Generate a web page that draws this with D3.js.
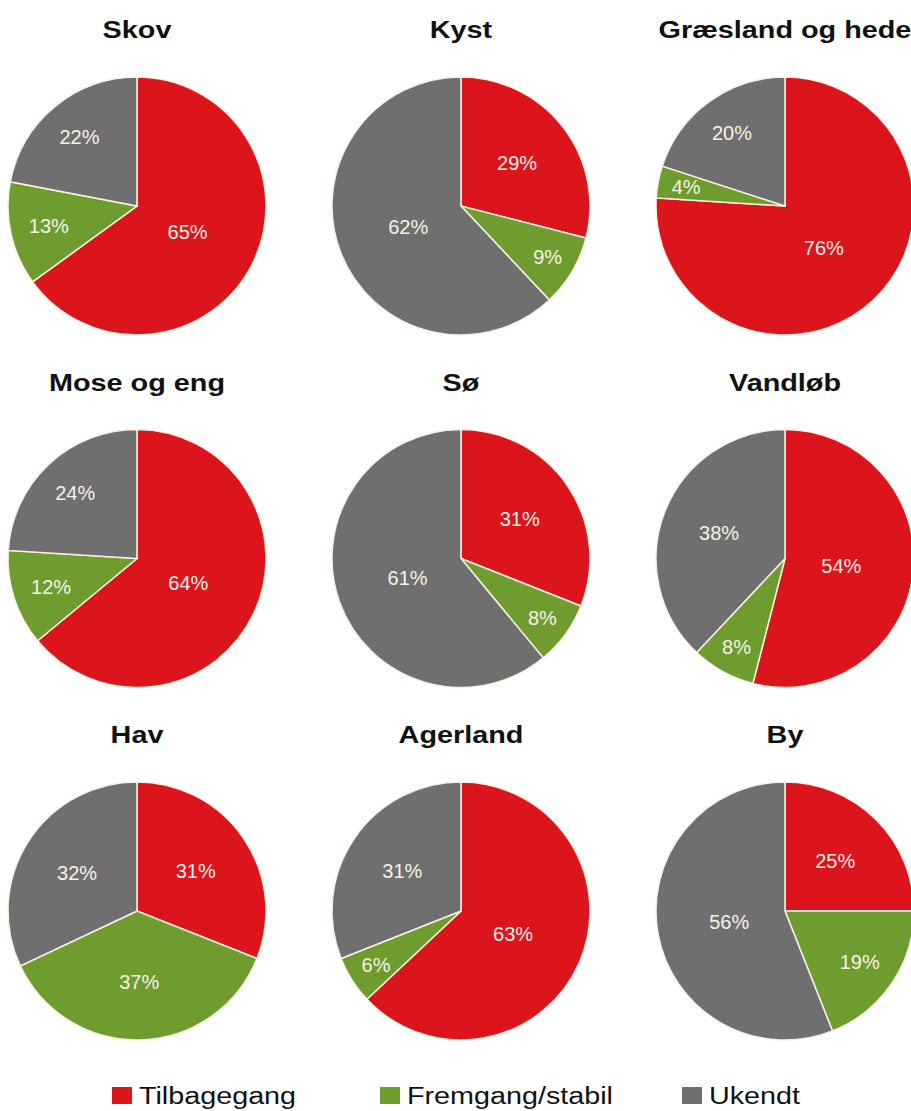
<!DOCTYPE html>
<html>
<head>
<meta charset="utf-8">
<script src="https://cdn.jsdelivr.net/npm/d3@7"></script>
<style>
  body { margin: 0; background: #fff; }
  svg { display: block; }
</style>
</head>
<body>
<svg id="chart" width="911" height="1111"></svg>
<script>
// data
const categories = ['Tilbagegang', 'Fremgang/stabil', 'Ukendt']
const habitats = ['Skov', 'Kyst', 'Græsland og hede', 'Mose og eng', 'Sø', 'Vandløb', 'Hav', 'Agerland', 'By']
const tilbagegang = [65, 29, 76, 64, 31, 54, 31, 63, 25]
const fremgang = [13, 9, 4, 12, 8, 8, 37, 6, 19]
const ukendt = [22, 62, 20, 24, 61, 38, 32, 31, 56]

const colors = ['#dc141c', '#6f9c2e', '#6f6f6f']
const radius = 129

const svg = d3.select('#chart')

const x = d3.scalePoint().domain([0, 1, 2]).range([137, 785])
const y = d3.scalePoint().domain([0, 1, 2]).range([206, 911])
const color = d3.scaleOrdinal(categories, colors)

const pie = d3.pie().sort(null).value(d => d.value)
const arc = d3.arc().innerRadius(0).outerRadius(radius)

// excel "best fit" puts small slices further out
function labelRadius(p) {
    if (p < 10) return radius * 0.78
    if (p < 25) return radius * 0.7
    if (p < 45) return radius * 0.55
    return radius * 0.44
}

habitats.forEach((name, i) => {
    const cx = x(i % 3)
    const cy = y(Math.floor(i / 3))
    const rows = [
        { key: categories[0], value: tilbagegang[i] },
        { key: categories[1], value: fremgang[i] },
        { key: categories[2], value: ukendt[i] }
    ]
    const g = svg.append('g').attr('transform', `translate(${cx},${cy})`)

    g.selectAll('path').data(pie(rows)).enter()
        .append('path')
        .attr('d', arc)
        .attr('fill', d => color(d.data.key))
        .attr('stroke', '#f6f2e2')
        .attr('stroke-width', 1.5)

    g.selectAll('text.lbl').data(pie(rows)).enter()
        .append('text')
        .attr('class', 'lbl')
        .attr('transform', d => {
            const a = (d.startAngle + d.endAngle) / 2
            const r = labelRadius(d.data.value)
            return `translate(${Math.sin(a) * r},${-Math.cos(a) * r})`
        })
        .attr('text-anchor', 'middle')
        .attr('dy', '0.36em')
        .attr('font-family', 'Liberation Sans, Arial, sans-serif')
        .attr('font-size', '20px')
        .attr('fill', '#f7f3e6')
        .text(d => d.data.value + '%')

    g.append('text')
        .attr('transform', `translate(0,${-168}) scale(1.2,1)`)
        .attr('text-anchor', 'middle')
        .attr('font-family', 'Liberation Sans, Arial, sans-serif')
        .attr('font-weight', 'bold')
        .attr('font-size', '24px')
        .attr('fill', '#111')
        .text(name)
})

// legend
const legendX = [112, 380, 682]
const legend = svg.selectAll('g.legend').data(categories).enter()
    .append('g')
    .attr('class', 'legend')
    .attr('transform', (d, i) => `translate(${legendX[i]},1087)`)

legend.append('rect')
    .attr('width', 20)
    .attr('height', 17)
    .attr('fill', d => color(d))

legend.append('text')
    .attr('transform', 'translate(27,16.5) scale(1.25,1)')
    .attr('font-family', 'Liberation Sans, Arial, sans-serif')
    .attr('font-size', '23px')
    .attr('fill', '#111')
    .text(d => d)
</script>
</body>
</html>
